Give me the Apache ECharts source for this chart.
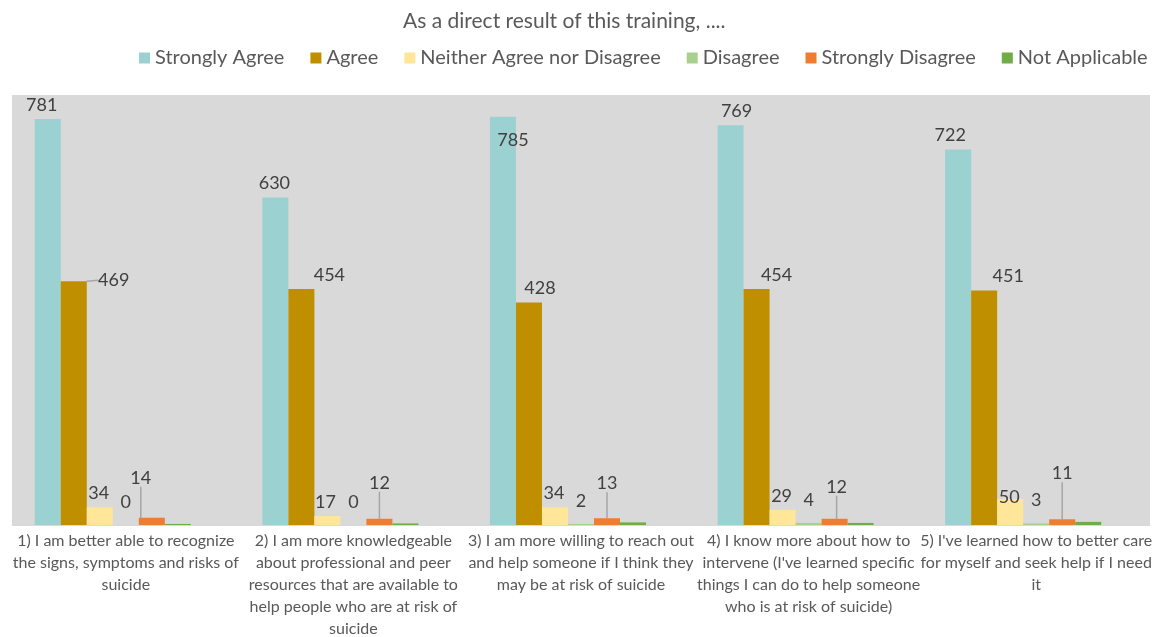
<!DOCTYPE html>
<html>
<head>
<meta charset="utf-8">
<script src="https://cdn.jsdelivr.net/npm/echarts@6/dist/echarts.min.js"></script>
<style>
  html, body { margin: 0; padding: 0; background: #fff; }
  #chart { width: 1166px; height: 637px; }
</style>
</head>
<body>
<div id="chart"></div>
<script>
// categories (line breaks follow the original wrapping)
const categories = [
  '1) I am better able to recognize\nthe signs, symptoms and risks of\nsuicide',
  '2) I am more knowledgeable\nabout professional and peer\nresources that are available to\nhelp people who are at risk of\nsuicide',
  '3) I am more willing to reach out\nand help someone if I think they\nmay be at risk of suicide',
  '4) I know more about how to\nintervene (I\'ve learned specific\nthings I can do to help someone\nwho is at risk of suicide)',
  '5) I\'ve learned how to better care\nfor myself and seek help if I need\nit'
];

const seriesNames = ['Strongly Agree', 'Agree', 'Neither Agree nor Disagree', 'Disagree', 'Strongly Disagree', 'Not Applicable'];
const stronglyAgree = [781, 630, 785, 769, 722];
const agree = [469, 454, 428, 454, 451];
const neither = [34, 17, 34, 29, 50];
const disagree = [0, 0, 2, 4, 3];
const stronglyDisagree = [14, 12, 13, 12, 11];
const notApplicable = [2, 3, 5, 4, 6];

const colors = ['#9bd1d0', '#bf8f00', '#ffe699', '#a9d18e', '#ed7d31', '#70ad47'];

const chart = echarts.init(document.getElementById('chart'));

const labelBase = {
  show: true,
  position: 'top',
  fontFamily: 'Lato',
  fontSize: 18,
  color: '#404040',
  distance: 5
};
const guide = { color: '#a6a6a6', width: 1.5 };

// per-point label nudges
const saOffsets = [[-6, 0], [-1, 0], [10, 37], [6, 0], [-8, 0]];
const agOffsets = [[40, 13], [28, 0], [11, 0], [20, 0], [24, 0]];
const neOffsets = [[-1, 0], [-2, 0], [-1, 0], [-1, 0], [-1, 12]];
const sdOffsets = [[-11, -26], [0, -22], [0, -21], [2, -18], [0, -32]];

function withOffsets(values, offsets) {
  return values.map((v, i) => ({ value: v, label: { offset: offsets[i] } }));
}

const option = {
  animation: false,
  title: {
    text: 'As a direct result of this training, ....',
    left: 398,
    top: 6,
    textStyle: { fontFamily: 'Lato', fontSize: 21, fontWeight: 'normal', color: '#595959' }
  },
  legend: {
    data: seriesNames,
    top: 43,
    left: 134,
    itemWidth: 11,
    itemHeight: 11,
    itemGap: 26,
    icon: 'rect',
    textStyle: { fontFamily: 'Lato', fontSize: 20, color: '#595959', padding: [0, 0, 0, 0] }
  },
  grid: {
    left: 12,
    right: 16,
    top: 95,
    bottom: 112,
    outerBoundsMode: 'none',
    show: true,
    backgroundColor: '#d9d9d9',
    borderWidth: 0
  },
  xAxis: {
    type: 'category',
    data: categories,
    axisLine: { lineStyle: { color: '#d9d9d9' } },
    axisTick: { show: false },
    axisLabel: {
      interval: 0,
      fontFamily: 'Lato',
      fontSize: 16,
      lineHeight: 22,
      color: '#595959',
      margin: 5
    }
  },
  yAxis: {
    type: 'value',
    min: 0,
    max: 827,
    show: false,
    splitLine: { show: false }
  },
  series: [
    {
      name: seriesNames[0], type: 'bar', barGap: 0, barCategoryGap: '20%',
      itemStyle: { color: colors[0] },
      label: labelBase,
      data: withOffsets(stronglyAgree, saOffsets)
    },
    {
      name: seriesNames[1], type: 'bar',
      itemStyle: { color: colors[1] },
      label: labelBase,
      labelLayout: function (p) {
        const o = agOffsets[p.dataIndex];
        return { dx: o[0], dy: o[1] };
      },
      labelLine: { show: false },
      data: agree.map((v, i) => i === 0
        ? { value: v, labelLine: { show: true, lineStyle: guide } }
        : { value: v })
    },
    {
      name: seriesNames[2], type: 'bar',
      itemStyle: { color: colors[2] },
      label: labelBase,
      data: withOffsets(neither, neOffsets)
    },
    {
      name: seriesNames[3], type: 'bar',
      itemStyle: { color: colors[3] },
      label: Object.assign({}, labelBase, { distance: 14 }),
      data: disagree
    },
    {
      name: seriesNames[4], type: 'bar',
      itemStyle: { color: colors[4] },
      label: labelBase,
      labelLayout: function (p) {
        const o = sdOffsets[p.dataIndex];
        return { dx: o[0], dy: o[1] };
      },
      labelLine: { show: true, lineStyle: guide },
      data: stronglyDisagree
    },
    {
      name: seriesNames[5], type: 'bar',
      itemStyle: { color: colors[5] },
      data: notApplicable
    },
    {
      // empty slot kept by the original chart
      name: '', type: 'bar',
      data: [null, null, null, null, null]
    }
  ]
};

chart.setOption(option);
</script>
</body>
</html>
